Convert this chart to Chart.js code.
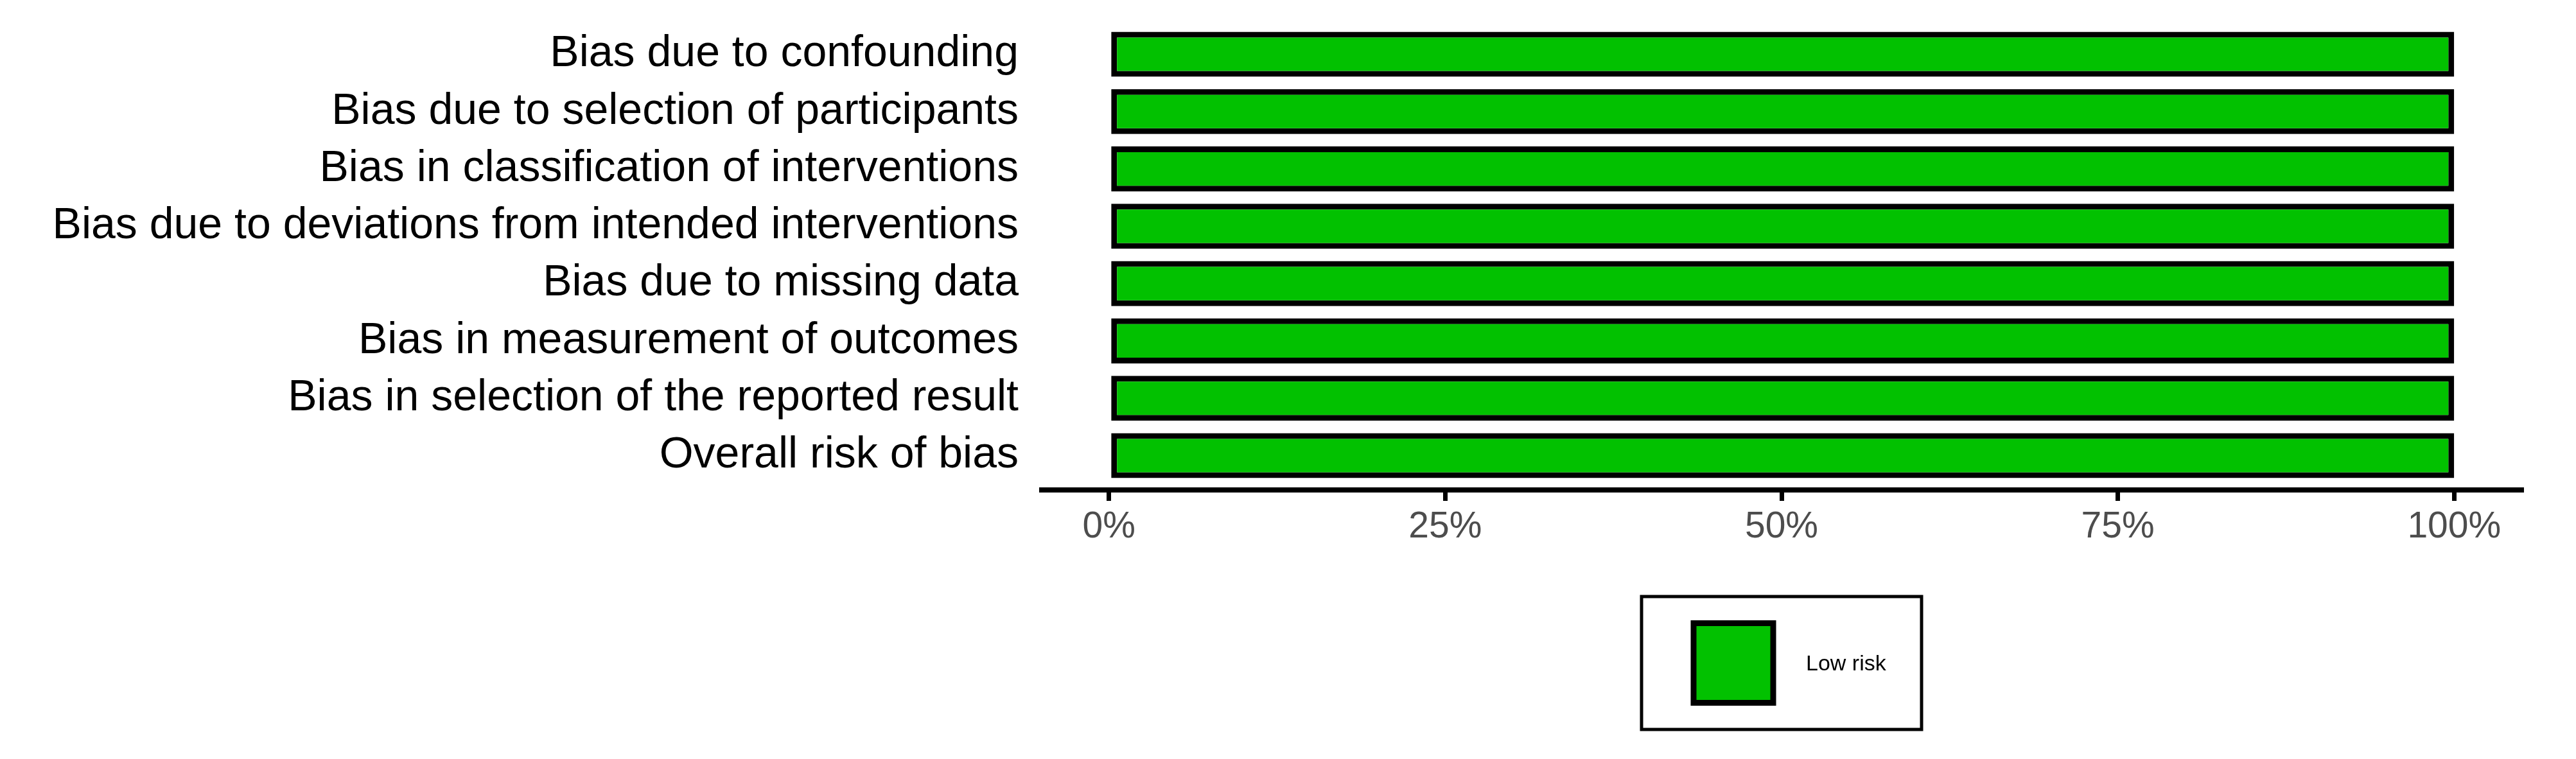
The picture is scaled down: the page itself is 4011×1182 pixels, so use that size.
<!DOCTYPE html>
<html>
<head>
<meta charset="utf-8">
<script src="https://cdn.jsdelivr.net/npm/chart.js@4/dist/chart.umd.min.js"></script>
<style>
  html, body { margin: 0; padding: 0; background: #fff; }
  canvas { display: block; }
</style>
</head>
<body>
<canvas id="robChart" width="4011" height="1182"></canvas>
<script>
const domains = [
  "Bias due to confounding",
  "Bias due to selection of participants",
  "Bias in classification of interventions",
  "Bias due to deviations from intended interventions",
  "Bias due to missing data",
  "Bias in measurement of outcomes",
  "Bias in selection of the reported result",
  "Overall risk of bias",
];
const lowRisk = [100, 100, 100, 100, 100, 100, 100, 100];
const xTicks = [0, 25, 50, 75, 100];
const seriesName = "Low risk";
const green = "#02C100";

const fontFamily = "'Liberation Sans', Arial, sans-serif";

// white page + framed legend under the panel
const legendBox = {
  id: "legendBox",
  beforeDraw(chart) {
    const ctx = chart.ctx;
    ctx.save();
    ctx.fillStyle = "#fff";
    ctx.fillRect(0, 0, chart.width, chart.height);
    ctx.restore();
  },
  afterDraw(chart) {
    const ctx = chart.ctx;
    const area = chart.chartArea;
    const ds = chart.data.datasets[0];
    const cx = (area.left + area.right) / 2;
    const w = 436, h = 207;
    const left = cx - w / 2;
    const top = area.bottom + 166;
    ctx.save();
    ctx.lineWidth = 5;
    ctx.strokeStyle = "#000";
    ctx.strokeRect(left, top, w, h);
    // key
    const k = 124;
    const kx = left + 81, ky = top + h / 2 - k / 2;
    ctx.fillStyle = ds.backgroundColor;
    ctx.fillRect(kx, ky, k, k);
    ctx.lineWidth = 9;
    ctx.strokeRect(kx, ky, k, k);
    ctx.fillStyle = "#000";
    ctx.font = "34px " + fontFamily;
    ctx.textBaseline = "middle";
    ctx.textAlign = "left";
    ctx.fillText(ds.label, left + 256, top + h / 2 + 2);
    ctx.restore();
  },
};

const chart = new Chart("robChart", {
  type: "bar",
  data: {
    datasets: [
      {
        label: seriesName,
        data: lowRisk.map((v, i) => ({ x: v, y: i })),
        backgroundColor: green,
        borderColor: "#000",
        borderWidth: 9,
        borderSkipped: false,
        barPercentage: 0.785,
        categoryPercentage: 1,
      },
    ],
  },
  options: {
    indexAxis: "y",
    responsive: false,
    animation: false,
    events: [],
    layout: { padding: { top: 31, right: 85, bottom: 0, left: 0 } },
    plugins: {
      legend: { display: false },
      tooltip: { enabled: false },
    },
    scales: {
      x: {
        type: "linear",
        min: -5,
        max: 105,
        afterBuildTicks(axis) {
          axis.min = -5;
          axis.max = 105;
          axis.ticks = xTicks.map((v) => ({ value: v }));
        },
        afterFit(axis) {
          axis.height = 419;
          axis.paddingLeft = 0;
          axis.paddingRight = 0;
        },
        grid: {
          drawOnChartArea: false,
          drawTicks: true,
          tickLength: 17,
          lineWidth: 7,
          color: "#000",
        },
        border: { display: true, color: "#000", width: 8 },
        ticks: {
          padding: 7,
          color: "#4D4D4D",
          font: { size: 57, family: fontFamily },
          callback: (v) => v + "%",
        },
      },
      y: {
        type: "linear",
        offset: false,
        min: -0.6,
        max: 7.6,
        reverse: true,
        afterBuildTicks(axis) {
          axis.min = -0.6;
          axis.max = 7.6;
          axis.ticks = domains.map((d, i) => ({ value: i }));
        },
        afterFit(axis) {
          axis.width = 1622;
          axis.paddingTop = 0;
          axis.paddingBottom = 0;
        },
        grid: { display: false, drawTicks: false, offset: false },
        border: { display: false },
        ticks: {
          autoSkip: false,
          padding: 36,
          color: "#000",
          font: { size: 68, family: fontFamily },
          callback: (v) => domains[v],
        },
      },
    },
  },
  plugins: [legendBox],
});
</script>
</body>
</html>
